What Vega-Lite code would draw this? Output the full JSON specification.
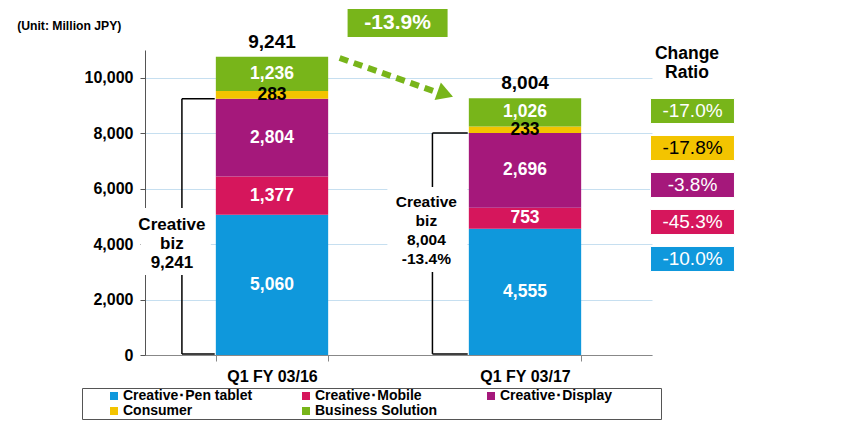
{
  "$schema": "https://vega.github.io/schema/vega-lite/v6.json",
  "width": 507,
  "height": 305,
  "autosize": "none",
  "padding": {"left": 145, "top": 50, "right": 198, "bottom": 69},
  "config": {"font": "Liberation Sans", "view": {"stroke": null}},
  "datasets": {
    "sales": [
      {"period": "Q1 FY 03/16", "series": "Creative･Pen tablet", "value": 5060},
      {"period": "Q1 FY 03/16", "series": "Creative･Mobile", "value": 1377},
      {"period": "Q1 FY 03/16", "series": "Creative･Display", "value": 2804},
      {"period": "Q1 FY 03/16", "series": "Consumer", "value": 283},
      {"period": "Q1 FY 03/16", "series": "Business Solution", "value": 1236},
      {"period": "Q1 FY 03/17", "series": "Creative･Pen tablet", "value": 4555},
      {"period": "Q1 FY 03/17", "series": "Creative･Mobile", "value": 753},
      {"period": "Q1 FY 03/17", "series": "Creative･Display", "value": 2696},
      {"period": "Q1 FY 03/17", "series": "Consumer", "value": 233},
      {"period": "Q1 FY 03/17", "series": "Business Solution", "value": 1026}
    ],
    "ratios": [
      {"series": "Business Solution", "ratio": "-17.0%"},
      {"series": "Consumer", "ratio": "-17.8%"},
      {"series": "Creative･Display", "ratio": "-3.8%"},
      {"series": "Creative･Mobile", "ratio": "-45.3%"},
      {"series": "Creative･Pen tablet", "ratio": "-10.0%"}
    ]
  },
  "layer": [
    {
      "data": {"name": "sales"},
      "transform": [{"stack": "value", "groupby": ["period"], "as": ["v0", "v1"]}],
      "layer": [
        {
          "mark": {"type": "bar"},
          "encoding": {
            "x": {
              "field": "period", "type": "nominal",
              "scale": {"domain": ["Q1 FY 03/16", "Q1 FY 03/17"], "paddingInner": 0.556, "paddingOuter": 0.28},
              "axis": {"title": null, "labelFontSize": 16, "labelFontWeight": "bold", "labelColor": "black", "labelAngle": 0, "tickBand": "extent", "tickSize": 6, "labelPadding": 7, "domainColor": "#888888", "tickColor": "#888888", "grid": false}
            },
            "y": {
              "field": "v1", "type": "quantitative",
              "scale": {"domain": [0, 11000], "nice": false},
              "axis": {"title": null, "values": [0, 2000, 4000, 6000, 8000, 10000], "labelExpr": "format(datum.value, ',')", "labelFontSize": 16, "labelFontWeight": "bold", "labelColor": "black", "tickSize": 5, "labelPadding": 7, "domainColor": "#555555", "tickColor": "#555555", "grid": true, "gridColor": "#c6dff0"}
            },
            "y2": {"field": "v0"},
            "color": {
              "field": "series", "type": "nominal",
              "scale": {
                "domain": ["Creative･Pen tablet", "Creative･Mobile", "Creative･Display", "Consumer", "Business Solution"],
                "range": ["#0f98dc", "#d6165c", "#a5187b", "#f3c400", "#78b51a"]
              },
              "legend": {
                "title": " ", "titleOrient": "right", "titlePadding": 48, "orient": "none", "legendX": -63, "legendY": 338, "direction": "horizontal",
                "columns": 3, "columnPadding": 22, "gridAlign": "each", "rowPadding": 1, "padding": 1,
                "symbolType": "square", "symbolSize": 64, "symbolStrokeWidth": 0, "symbolOffset": 24,
                "labelFontSize": 14, "labelFontWeight": "bold", "labelColor": "black", "labelOffset": 2, "labelLimit": 0,
                "strokeColor": "#555555"
              }
            }
          }
        },
        {
          "transform": [{"fold": ["v0", "v1"], "as": ["k", "pos"]}],
          "mark": {"type": "text", "fontSize": 17.5, "fontWeight": "bold", "baseline": "middle"},
          "encoding": {
            "x": {"field": "period", "type": "nominal"},
            "y": {"field": "pos", "aggregate": "mean", "type": "quantitative", "stack": null},
            "detail": {"field": "series"},
            "text": {"field": "value", "aggregate": "max", "format": ","},
            "color": {"condition": {"test": "datum.series === 'Consumer'", "value": "black"}, "value": "white"}
          }
        },
        {
          "transform": [
            {"joinaggregate": [{"op": "max", "field": "v1", "as": "top"}], "groupby": ["period"]},
            {"filter": {"field": "series", "oneOf": ["Creative･Pen tablet", "Creative･Mobile", "Creative･Display"]}},
            {"aggregate": [{"op": "sum", "field": "value", "as": "creative"}, {"op": "max", "field": "top", "as": "top"}], "groupby": ["period"]}
          ],
          "mark": {"type": "text", "fontSize": 19, "fontWeight": "bold", "baseline": "alphabetic", "dy": -9, "color": "black"},
          "encoding": {
            "x": {"field": "period", "type": "nominal"},
            "y": {"field": "top", "type": "quantitative"},
            "text": {"field": "creative", "format": ","}
          }
        },
        {
          "data": {"values": [{}]},
          "layer": [
            {
              "mark": {"type": "text", "text": "(Unit: Million JPY)", "align": "left", "baseline": "middle", "fontSize": 12.2, "fontWeight": "bold", "color": "black"},
              "encoding": {"x": {"datum": "Q1 FY 03/16", "bandPosition": -1.769}, "y": {"datum": 11866, "type": "quantitative"}}
            },
            {
              "mark": {"type": "point", "shape": "M-1,-0.28H1V0.28H-1Z", "size": 10000, "filled": true, "opacity": 1, "color": "#78b51a"},
              "encoding": {"x": {"datum": "Q1 FY 03/16", "bandPosition": 1.618}, "y": {"datum": 11974, "type": "quantitative"}}
            },
            {
              "mark": {"type": "text", "text": "-13.9%", "baseline": "middle", "fontSize": 21, "fontWeight": "bold", "color": "white"},
              "encoding": {"x": {"datum": "Q1 FY 03/16", "bandPosition": 1.618}, "y": {"datum": 11974, "type": "quantitative"}}
            },
            {
              "mark": {"type": "text", "text": ["Change", "Ratio"], "lineHeight": 19, "baseline": "middle", "fontSize": 17.5, "fontWeight": "bold", "color": "black"},
              "encoding": {"x": {"datum": "Q1 FY 03/17", "bandPosition": 1.942}, "y": {"datum": 10856, "type": "quantitative"}}
            },
            {
              "mark": {"type": "rule", "color": "#78b51a", "strokeWidth": 6, "strokeDash": [9, 6]},
              "encoding": {
                "x": {"datum": "Q1 FY 03/16", "bandPosition": 1.102},
                "x2": {"datum": "Q1 FY 03/17", "bandPosition": -0.289},
                "y": {"datum": 10712, "type": "quantitative"},
                "y2": {"datum": 9485}
              }
            },
            {
              "mark": {"type": "point", "shape": "triangle-right", "angle": 19.5, "size": 350, "filled": true, "opacity": 1, "color": "#78b51a"},
              "encoding": {"x": {"datum": "Q1 FY 03/17", "bandPosition": -0.209}, "y": {"datum": 9413, "type": "quantitative"}}
            },
            {
              "mark": {"type": "rule", "color": "black", "strokeWidth": 1.5},
              "encoding": {"x": {"datum": "Q1 FY 03/16", "bandPosition": -0.302}, "y": {"datum": 9241, "type": "quantitative"}, "y2": {"datum": 40}}
            },
            {
              "mark": {"type": "rule", "color": "black", "strokeWidth": 1.5},
              "encoding": {"x": {"datum": "Q1 FY 03/16", "bandPosition": -0.302}, "x2": {"datum": "Q1 FY 03/16", "bandPosition": -0.01}, "y": {"datum": 9241, "type": "quantitative"}}
            },
            {
              "mark": {"type": "rule", "color": "black", "strokeWidth": 1.5},
              "encoding": {"x": {"datum": "Q1 FY 03/16", "bandPosition": -0.302}, "x2": {"datum": "Q1 FY 03/16", "bandPosition": -0.01}, "y": {"datum": 40, "type": "quantitative"}}
            },
            {
              "mark": {"type": "rule", "color": "black", "strokeWidth": 1.5},
              "encoding": {"x": {"datum": "Q1 FY 03/17", "bandPosition": -0.324}, "y": {"datum": 8004, "type": "quantitative"}, "y2": {"datum": 40}}
            },
            {
              "mark": {"type": "rule", "color": "black", "strokeWidth": 1.5},
              "encoding": {"x": {"datum": "Q1 FY 03/17", "bandPosition": -0.324}, "x2": {"datum": "Q1 FY 03/17", "bandPosition": -0.01}, "y": {"datum": 8004, "type": "quantitative"}}
            },
            {
              "mark": {"type": "rule", "color": "black", "strokeWidth": 1.5},
              "encoding": {"x": {"datum": "Q1 FY 03/17", "bandPosition": -0.324}, "x2": {"datum": "Q1 FY 03/17", "bandPosition": -0.01}, "y": {"datum": 40, "type": "quantitative"}}
            },
            {
              "mark": {"type": "point", "shape": "M-1,-0.957H1V0.957H-1Z", "size": 4900, "filled": true, "opacity": 1, "color": "white"},
              "encoding": {"x": {"datum": "Q1 FY 03/16", "bandPosition": -0.356}, "y": {"datum": 4093, "type": "quantitative"}}
            },
            {
              "mark": {"type": "point", "shape": "M-1,-1.0625H1V1.0625H-1Z", "size": 6400, "filled": true, "opacity": 1, "color": "white"},
              "encoding": {"x": {"datum": "Q1 FY 03/17", "bandPosition": -0.369}, "y": {"datum": 4526, "type": "quantitative"}}
            },
            {
              "mark": {"type": "text", "text": ["Creative", "biz", "9,241"], "lineHeight": 19, "baseline": "middle", "fontSize": 17, "fontWeight": "bold", "color": "black"},
              "encoding": {"x": {"datum": "Q1 FY 03/16", "bandPosition": -0.391}, "y": {"datum": 4689, "type": "quantitative"}}
            },
            {
              "mark": {"type": "text", "text": ["Creative", "biz", "8,004", "-13.4%"], "lineHeight": 19, "baseline": "middle", "fontSize": 15.5, "fontWeight": "bold", "color": "black"},
              "encoding": {"x": {"datum": "Q1 FY 03/17", "bandPosition": -0.378}, "y": {"datum": 5518, "type": "quantitative"}}
            }
          ]
        }
      ]
    },
    {
      "data": {"name": "ratios"},
      "encoding": {
        "x": {"datum": "Q1 FY 03/17", "bandPosition": 1.991},
        "y": {
          "field": "series", "type": "nominal",
          "scale": {"type": "point", "domain": ["Business Solution", "Consumer", "Creative･Display", "Creative･Mobile", "Creative･Pen tablet"], "range": [61, 209], "padding": 0},
          "axis": null
        }
      },
      "layer": [
        {
          "mark": {"type": "point", "shape": "M-1,-0.298H1V0.298H-1Z", "size": 7056, "filled": true, "opacity": 1, "stroke": "white", "strokeWidth": 1},
          "encoding": {"color": {"field": "series", "type": "nominal"}}
        },
        {
          "mark": {"type": "text", "fontSize": 19, "baseline": "middle"},
          "encoding": {
            "text": {"field": "ratio"},
            "color": {"condition": {"test": "datum.series === 'Consumer'", "value": "black"}, "value": "white"}
          }
        }
      ]
    }
  ],
  "resolve": {"scale": {"y": "independent"}}
}
